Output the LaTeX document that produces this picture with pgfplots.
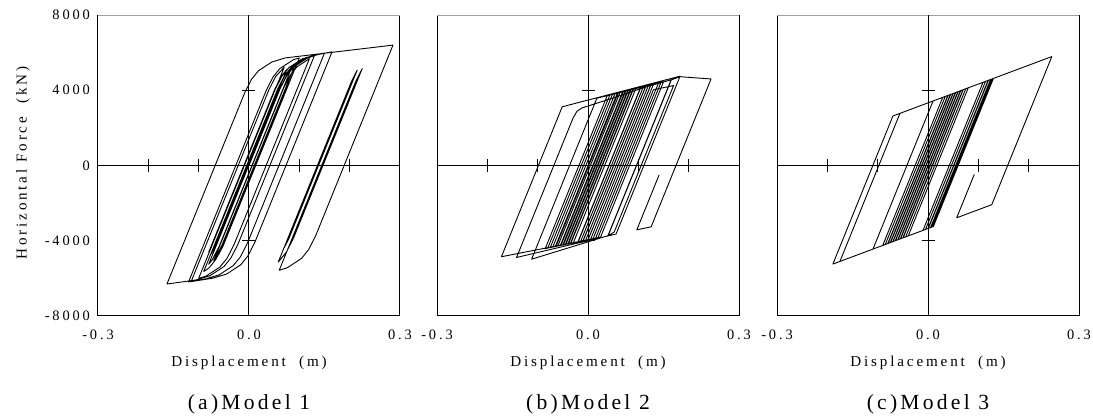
\documentclass[border=0pt]{standalone}
\usepackage{fontspec}
\setmainfont{Liberation Serif}
\newfontfamily\tickfont[LetterSpace=20]{Liberation Serif}
\newfontfamily\labfont[LetterSpace=19]{Liberation Serif}
\newfontfamily\capfont[LetterSpace=15]{Liberation Serif}
\usepackage{pgfplots}
\pgfplotsset{compat=1.18}

\pgfplotsset{hyst/.style={
  width=151pt, height=150.5pt, scale only axis,
  anchor=south west,
  xmin=-0.3, xmax=0.3, ymin=-8000, ymax=8000,
  xtick={-0.3,0,0.3}, xticklabels={-0.3,0.0,0.3},
  ytick={-8000,-4000,0,4000,8000},
  major tick length=0pt, minor tick num=0,
  tick label style={font={\tickfont\fontsize{7.2}{8}\selectfont}},
  xticklabel style={yshift=-3.4pt},
  yticklabel style={xshift=-0.5pt},
  axis line style={line width=0.5pt},
},
hl/.style={black, line width=0.45pt, line join=round, mark=none}}
\newcommand\zerolines{%
  \draw[gray!75, line width=1pt] (axis cs:-0.3,8000) -- (axis cs:0.3,8000);
  \draw[line width=0.5pt] (axis cs:-0.3,0) -- (axis cs:0.3,0);
  \draw[line width=0.5pt] (axis cs:0,-8000) -- (axis cs:0,8000);
  \draw[line width=0.45pt] ([yshift=-3.25pt]axis cs:-0.2,0) -- ([yshift=3.25pt]axis cs:-0.2,0);
  \draw[line width=0.45pt] ([yshift=-3.25pt]axis cs:-0.1,0) -- ([yshift=3.25pt]axis cs:-0.1,0);
  \draw[line width=0.45pt] ([yshift=-3.25pt]axis cs:0.1,0) -- ([yshift=3.25pt]axis cs:0.1,0);
  \draw[line width=0.45pt] ([yshift=-3.25pt]axis cs:0.2,0) -- ([yshift=3.25pt]axis cs:0.2,0);
  \draw[line width=0.45pt] ([xshift=-3.25pt]axis cs:0,4000) -- ([xshift=3.25pt]axis cs:0,4000);
  \draw[line width=0.45pt] ([xshift=-3.25pt]axis cs:0,-4000) -- ([xshift=3.25pt]axis cs:0,-4000);
}

\begin{document}
\begin{tikzpicture}
\path[use as bounding box] (0,0) rectangle (546.5pt,208pt);

% ---------------- Model 1 ----------------
\begin{axis}[hyst, at={(49pt,50pt)}, yticklabels={-8000,-4000,0,4000,8000}]
\zerolines
\addplot[hl] coordinates {
(0,0) (0.062,4094) (0.0754,4792) (0.0888,5233) (0.09,5252)
(-0.0542,-4268) (-0.0682,-5001) (-0.07,-5050)
(0.0688,4113) (0.0822,4811) (0.0956,5252) (0.12,5676)
(-0.0296,-4199) (-0.0436,-4932) (-0.0576,-5394) (-0.0856,-5885) (-0.10,-6000)
(0.0525,4067) (0.0659,4766) (0.0793,5206) (0.1061,5673) (0.1325,5888) (0.15,5980)
(-0.0031,-4125) (-0.0171,-4858) (-0.0311,-5320) (-0.0591,-5810) (-0.0871,-6036) (-0.12,-6186)
(0.0346,4017) (0.048,4715) (0.0614,5156) (0.0882,5623) (0.10,5720)
(-0.0512,-4259) (-0.06,-4718)
(0.074,4127) (0.08,4440)
(-0.0518,-4261) (-0.0658,-4994) (-0.0798,-5456) (-0.09,-5635)
(0.0572,4080) (0.0706,4779) (0.084,5219) (0.1108,5686) (0.1372,5901) (0.165,6042)
(0.0116,-4084) (-0.0024,-4817) (-0.0164,-5279) (-0.0444,-5769) (-0.0724,-5995) (-0.115,-6172)
(0.0396,4031) (0.053,4729) (0.07,5226)
(-0.0747,-4325) (-0.08,-4603)
(0.0513,4064) (0.0647,4762) (0.075,5101)
(-0.0675,-4305) (-0.075,-4698)
(0.058,4082) (0.0714,4781) (0.085,5222)
(-0.059,-4281) (-0.073,-5014) (-0.08,-5246)
(0.0615,4092) (0.0749,4791) (0.0883,5231) (0.1151,5698) (0.13,5844)
(-0.0218,-4177) (-0.0358,-4910) (-0.0498,-5372) (-0.0778,-5863) (-0.1058,-6088) (-0.163,-6300)
(-0.008,3898) (0.0054,4596) (0.0188,5037) (0.0456,5504) (0.072,5719) (0.286,6400)
(0.1323,-3746) (0.1183,-4479) (0.1043,-4941) (0.0763,-5431) (0.06,-5572)
(0.2128,4516) (0.225,5152)
(0.0883,-3869) (0.0743,-4602) (0.0603,-5064) (0.058,-5138)
(0.2039,4491) (0.215,5072)
(0.0791,-3895) (0.07,-4371)
(0.16,1570)
};
\end{axis}

% ---------------- Model 2 ----------------
\begin{axis}[hyst, at={(218.5pt,50pt)}, yticklabels={}]
\zerolines
\addplot[hl] coordinates {
(0,0) (0.0582,3844) (0.09,4054)
(-0.0341,-4138) (-0.04,-4170)
(0.0840,4014) (0.11,4186)
(-0.0145,-4030) (-0.06,-4280)
(0.0636,3880) (0.08,3988)
(-0.0439,-4191) (-0.08,-4390)
(0.0433,3746) (0.12,4252)
(-0.0047,-3976) (-0.02,-4060)
(0.1044,4149) (0.13,4318)
(0.0052,-3921) (-0.172,-4850)
(-0.0512,3122) (0.183,4750)
(0.0558,-3643) (-0.142,-4890)
(-0.03,2502) (-0.022,2880) (-0.012,3060) (0.05,3590) (0.12,4222) (0.165,4550)
(0.0395,-3733) (-0.112,-4980)
(0.0176,3576) (0.14,4384)
(0.015,-3868) (-0.07,-4335)
(0.0535,3813) (0.07,3922)
(-0.0538,-4246) (-0.085,-4418)
(0.0382,3712) (0.06,3856)
(-0.0636,-4300) (-0.065,-4308)
(0.0586,3847) (0.095,4087)
(-0.0292,-4111) (-0.045,-4198)
(0.0789,3981) (0.115,4219)
(-0.0096,-4003) (-0.01,-4005)
(0.1146,4216) (0.125,4285)
(0.0002,-3949) (-0.035,-4143)
(0.0891,4048) (0.105,4153)
(-0.0194,-4057) (-0.055,-4253)
(0.0687,3913) (0.085,4021)
(-0.039,-4165) (-0.075,-4363)
(0.0484,3779) (0.075,3955)
(-0.0488,-4218) (-0.05,-4225)
(0.0738,3947) (0.15,4450)
(0.0248,-3814) (0.0,-3950)
(0.1247,4283) (0.145,4420)
(0.0198,-3841) (0.01,-3895)
(0.13,4025) (0.17,4250)
(0.052,-3538) (0.04,-3730)
(0.1655,4552) (0.183,4720) (0.2445,4600)
(0.1254,-3260) (0.097,-3420)
(0.141,-516) (0.104,-2958) (0.138,-714)
};
\end{axis}

% ---------------- Model 3 ----------------
\begin{axis}[hyst, at={(388.5pt,50pt)}, yticklabels={}]
\zerolines
\addplot[hl] coordinates {
(0,0) (0.0595,3925) (0.075,4080)
(-0.0443,-3793) (-0.06,-3950)
(0.0593,3923) (0.07,4030)
(-0.0493,-3843) (-0.07,-4050)
(0.0493,3823) (0.06,3930)
(-0.0593,-3943) (-0.189,-5240)
(-0.0697,2633) (0.01,3430)
(-0.1093,-4443) (-0.175,-5100)
(-0.0557,2773) (0.13,4630)
(0.0107,-3243) (0.0,-3350)
(0.1193,4523) (0.125,4580)
(0.0057,-3293) (-0.005,-3400)
(0.1143,4473) (0.12,4530)
(0.0007,-3343) (-0.01,-3450)
(0.1093,4423) (0.128,4610)
(0.0087,-3263) (0.005,-3300)
(0.1243,4573) (0.127,4600)
(0.0077,-3273) (-0.05,-3850)
(0.0693,4023) (0.075,4080)
(-0.0443,-3793) (-0.065,-4000)
(0.0543,3873) (0.06,3930)
(-0.0593,-3943) (-0.08,-4150)
(0.0393,3723) (0.05,3830)
(-0.0693,-4043) (-0.085,-4200)
(0.0343,3673) (0.045,3780)
(-0.0743,-4093) (-0.075,-4100)
(0.0443,3773) (0.065,3980)
(-0.0543,-3893) (-0.07,-4050)
(0.0493,3823) (0.08,4130)
(-0.0393,-3743) (-0.055,-3900)
(0.0643,3973) (0.07,4030)
(-0.0493,-3843) (-0.09,-4250)
(0.0293,3623) (0.04,3730)
(-0.0793,-4143) (-0.08,-4150)
(0.0393,3723) (0.055,3880)
(-0.0643,-3993) (-0.065,-4000)
(0.0543,3873) (0.075,4080)
(-0.0443,-3793) (-0.06,-3950)
(0.0593,3923) (0.246,5790)
(0.1267,-2083) (0.057,-2780)
(0.09,-602) (0.062,-2450) (0.092,-470)
};
\end{axis}

% ---------------- labels ----------------
\node[rotate=90, anchor=base, inner sep=0pt, font={\labfont\fontsize{7.55}{9}\selectfont}] at (13.3pt,126.5pt) {Horizontal Force\ \ (kN)};
\foreach \cx/\cap in {124.5/(a)Model 1, 294/(b)Model 2, 464/(c)Model 3}{
  \node[anchor=base, inner sep=0pt, font={\labfont\fontsize{7.55}{9}\selectfont}] at (\cx pt,24.5pt) {Displacement\ \ (m)};
  \node[anchor=base, inner sep=0pt, font={\capfont\fontsize{10.8}{12}\selectfont}] at (\cx pt,3.2pt) {\cap};
}
\end{tikzpicture}
\end{document}
